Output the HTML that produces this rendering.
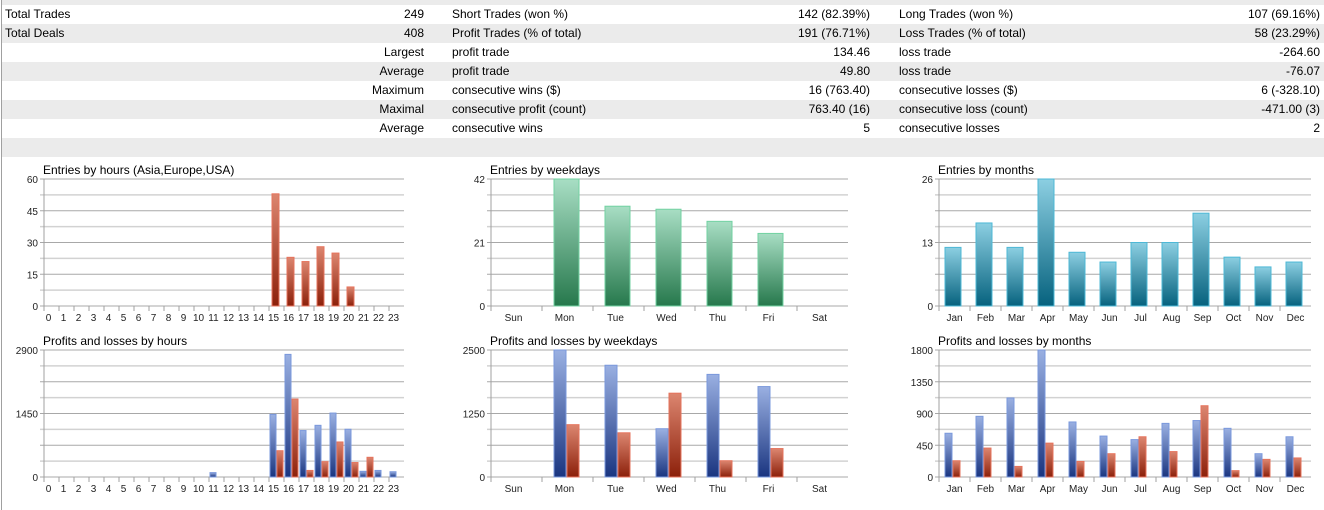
<!DOCTYPE html>
<html><head><meta charset="utf-8"><style>
body{margin:0;width:1324px;height:510px;background:#fff;overflow:hidden;font-family:"Liberation Sans",sans-serif;position:relative}
.r{position:absolute;left:2px;width:1322px;height:19px;font-size:12px;line-height:19px;color:#000}
.g{background:#ebebeb}
.r span{position:absolute;white-space:nowrap}
#lb{position:absolute;left:1px;top:0;width:1px;height:510px;background:#a0a0a0}
svg{position:absolute;left:0;top:0}
</style></head><body>
<div class="r g" style="top:0;height:5px"></div>
<div class="r" style="top:5px"><span style="left:3px">Total Trades</span><span style="right:900px">249</span><span style="left:450px">Short Trades (won %)</span><span style="right:454px">142 (82.39%)</span><span style="left:897px">Long Trades (won %)</span><span style="right:4px">107 (69.16%)</span></div>
<div class="r g" style="top:24px"><span style="left:3px">Total Deals</span><span style="right:900px">408</span><span style="left:450px">Profit Trades (% of total)</span><span style="right:454px">191 (76.71%)</span><span style="left:897px">Loss Trades (% of total)</span><span style="right:4px">58 (23.29%)</span></div>
<div class="r" style="top:43px"><span style="right:900px">Largest</span><span style="left:450px">profit trade</span><span style="right:454px">134.46</span><span style="left:897px">loss trade</span><span style="right:4px">-264.60</span></div>
<div class="r g" style="top:62px"><span style="right:900px">Average</span><span style="left:450px">profit trade</span><span style="right:454px">49.80</span><span style="left:897px">loss trade</span><span style="right:4px">-76.07</span></div>
<div class="r" style="top:81px"><span style="right:900px">Maximum</span><span style="left:450px">consecutive wins ($)</span><span style="right:454px">16 (763.40)</span><span style="left:897px">consecutive losses ($)</span><span style="right:4px">6 (-328.10)</span></div>
<div class="r g" style="top:100px"><span style="right:900px">Maximal</span><span style="left:450px">consecutive profit (count)</span><span style="right:454px">763.40 (16)</span><span style="left:897px">consecutive loss (count)</span><span style="right:4px">-471.00 (3)</span></div>
<div class="r" style="top:119px"><span style="right:900px">Average</span><span style="left:450px">consecutive wins</span><span style="right:454px">5</span><span style="left:897px">consecutive losses</span><span style="right:4px">2</span></div>
<div class="r g" style="top:138px"></div>
<div id="lb"></div>
<svg id="s" width="1324" height="510" xmlns="http://www.w3.org/2000/svg"></svg>
<script>
var s=document.getElementById('s');
var defs='<defs>'+
'<linearGradient id="red" x1="0" y1="0" x2="0" y2="1"><stop offset="0" stop-color="#dc8670"/><stop offset="1" stop-color="#8c200a"/></linearGradient>'+
'<linearGradient id="blue" x1="0" y1="0" x2="0" y2="1"><stop offset="0" stop-color="#9ab0e2"/><stop offset="1" stop-color="#1a3580"/></linearGradient>'+
'<linearGradient id="green" x1="0" y1="0" x2="0" y2="1"><stop offset="0" stop-color="#a8dec4"/><stop offset="1" stop-color="#26784c"/></linearGradient>'+
'<linearGradient id="teal" x1="0" y1="0" x2="0" y2="1"><stop offset="0" stop-color="#8ccfe2"/><stop offset="1" stop-color="#06627e"/></linearGradient></defs>';
var h=defs;
var stroke={red:"#e6735c",blue:"#7a98dc",green:"#72d2a2",teal:"#4db8d6"};
function chart(o){
 var x0=o.x0,x1=o.x1,y0=o.y0,y1=o.y1,n=o.cats.length,cw=(x1-x0)/n;
 h+='<text x="'+(x0-1)+'" y="'+(y0-5)+'" font-size="12" fill="#000">'+o.title+'</text>';
 for(var i=0;i<=8;i++){var y=y0+(y1-y0)*i/8;
  h+='<line x1="'+(x0-4)+'" x2="'+x1+'" y1="'+y+'" y2="'+y+'" stroke="'+(i%2?"#d2d2d2":"#a8a8a8")+'" stroke-width="'+(i%2?1.6:1)+'"/>';}
 h+='<line x1="'+x0+'" x2="'+x0+'" y1="'+y0+'" y2="'+y1+'" stroke="#a0a0a0"/>';
 var L=o.yl.length;
 for(i=0;i<L;i++){h+='<text x="'+(x0-6)+'" y="'+(y0+(y1-y0)*i/(L-1)+4)+'" font-size="10" text-anchor="end" fill="#222">'+o.yl[i]+'</text>';}
 for(i=0;i<n;i++){var cx=x0+i*cw;
  h+='<line x1="'+cx+'" x2="'+cx+'" y1="'+y1+'" y2="'+(y1+5)+'" stroke="#a0a0a0"/>';
  h+='<text x="'+(cx+cw/2+o.lo)+'" y="'+(y1+15)+'" font-size="10" text-anchor="middle" fill="#222">'+o.cats[i]+'</text>';
  for(var k=0;k<o.series.length;k++){var v=o.series[k].d[i];if(!v)continue;
   var bh=(y1-y0)*v/o.max,bx=cx+o.off+k*o.bw;
   h+='<rect x="'+bx+'" y="'+(y1-bh)+'" width="'+(o.bw-1)+'" height="'+bh+'" fill="url(#'+o.series[k].c+')" stroke="'+stroke[o.series[k].c]+'" stroke-width="1"/>';}
 }
}
var H=[];for(var i=0;i<24;i++)H.push(i);
var W=["Sun","Mon","Tue","Wed","Thu","Fri","Sat"],M=["Jan","Feb","Mar","Apr","May","Jun","Jul","Aug","Sep","Oct","Nov","Dec"];
function arr(n,m){var a=[];for(var i=0;i<n;i++)a.push(m[i]||0);return a;}
chart({x0:44,x1:404,y0:179,y1:306,cats:H,lo:-3,title:"Entries by hours (Asia,Europe,USA)",yl:[60,45,30,15,0],max:60,off:3,bw:8,series:[{c:"red",d:arr(24,{15:53,16:23,17:21,18:28,19:25,20:9})}]});
chart({x0:44,x1:404,y0:350,y1:477,cats:H,lo:-3,title:"Profits and losses by hours",yl:[2900,1450,0],max:2900,off:1,bw:7,series:[{c:"blue",d:arr(24,{11:100,15:1430,16:2800,17:1060,18:1180,19:1460,20:1090,21:130,22:150,23:120})},{c:"red",d:arr(24,{15:600,16:1780,17:150,18:350,19:800,20:330,21:450})}]});
chart({x0:491,x1:848,y0:179,y1:306,cats:W,lo:-3,title:"Entries by weekdays",yl:[42,21,0],max:42,off:12,bw:26,series:[{c:"green",d:[0,42,33,32,28,24,0]}]});
chart({x0:491,x1:848,y0:350,y1:477,cats:W,lo:-3,title:"Profits and losses by weekdays",yl:[2500,1250,0],max:2500,off:12,bw:13,series:[{c:"blue",d:[0,2500,2200,950,2020,1780,0]},{c:"red",d:[0,1030,870,1650,320,560,0]}]});
chart({x0:939,x1:1311,y0:179,y1:306,cats:M,lo:0,title:"Entries by months",yl:[26,13,0],max:26,off:6,bw:17,series:[{c:"teal",d:[12,17,12,26,11,9,13,13,19,10,8,9]}]});
chart({x0:939,x1:1311,y0:350,y1:477,cats:M,lo:0,title:"Profits and losses by months",yl:[1800,1350,900,450,0],max:1800,off:6,bw:8,series:[{c:"blue",d:[620,860,1120,1800,780,580,530,760,800,690,330,570]},{c:"red",d:[230,410,150,480,220,330,570,360,1010,90,250,270]}]});
s.innerHTML=h;
</script>
</body></html>
